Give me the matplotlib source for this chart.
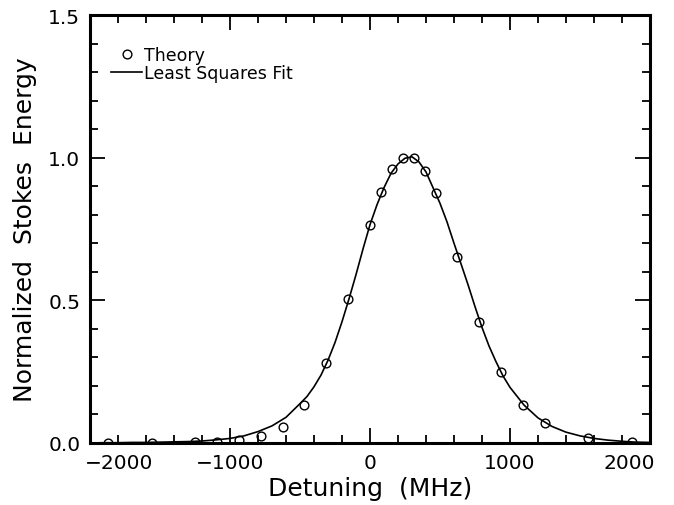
import matplotlib
matplotlib.use("Agg")
import matplotlib.pyplot as plt
from matplotlib.ticker import MultipleLocator
import matplotlib.transforms as mtransforms

plt.rcParams['font.family'] = ['DejaVu Sans']

# theory points (detuning in MHz, normalized energy)
theory_x = [-1872, -1560, -1248, -1092, -936, -780, -624, -468, -312, -156,
            0, 78, 156, 234, 312, 390, 468, 624, 780, 936, 1092, 1248, 1560, 1872]
theory_y = [0.0, 0.0, 0.002, 0.004, 0.01, 0.025, 0.056, 0.133, 0.28, 0.505,
            0.765, 0.88, 0.96, 1.0, 1.0, 0.955, 0.877, 0.653, 0.425, 0.25, 0.133, 0.07, 0.017, 0.003]

# least squares fit curve
fit_x = [-2000, -1900, -1800, -1700, -1600, -1500, -1400, -1300, -1200, -1100,
         -1000, -900, -800, -700, -600, -500, -450, -400, -350, -300, -250,
         -200, -150, -100, -50, 0, 50, 100, 150, 200, 250, 300, 350, 400, 450,
         500, 550, 600, 650, 700, 750, 800, 850, 900, 950, 1000, 1100, 1200,
         1300, 1400, 1500, 1600, 1700, 1800, 1900, 2000]
fit_y = [0.000, 0.001, 0.001, 0.002, 0.002, 0.003, 0.004, 0.005, 0.007, 0.011,
         0.016, 0.025, 0.040, 0.060, 0.090, 0.138, 0.163, 0.197, 0.238, 0.290, 0.352,
         0.425, 0.505, 0.590, 0.680, 0.765, 0.835, 0.895, 0.945, 0.978, 0.998, 1.003, 0.985, 0.950, 0.895,
         0.840, 0.775, 0.700, 0.628, 0.555, 0.478, 0.405, 0.340, 0.285, 0.235, 0.195, 0.133, 0.088,
         0.058, 0.038, 0.025, 0.016, 0.010, 0.006, 0.003, 0.002]

fig = plt.figure(figsize=(6.74, 5.06), dpi=100)
ax = fig.add_axes([90 / 674, 62 / 506, 560 / 674, 428 / 506])

ax.plot(theory_x, theory_y, 'o', mfc='none', mec='black', ms=6.3, mew=1.0,
        label='Theory', zorder=3)
ax.plot(fit_x, fit_y, '-', color='black', lw=1.2, label='Least Squares Fit')

ax.set_xlim(-2000, 2000)
ax.set_ylim(0, 1.5)
ax.xaxis.set_major_locator(MultipleLocator(1000))
ax.xaxis.set_minor_locator(MultipleLocator(200))
ax.yaxis.set_major_locator(MultipleLocator(0.5))
ax.yaxis.set_minor_locator(MultipleLocator(0.1))
ax.yaxis.set_major_formatter(plt.FormatStrFormatter('%.1f'))

ax.tick_params(which='both', direction='in', top=True, right=True, labelsize=14.5, width=1.3)
ax.tick_params(which='major', length=11, pad=7)
ax.tick_params(which='minor', length=6)
for s in ax.spines.values():
    s.set_linewidth(2.2)

ax.set_xlabel('Detuning  (MHz)', fontsize=18, labelpad=3)
ax.set_ylabel('Normalized  Stokes  Energy', fontsize=18, labelpad=8)

# end labels sit inside the frame, as in the original plot
fig.canvas.draw()
for tick in ax.xaxis.get_major_ticks():
    loc = tick.get_loc()
    if loc == -2000:
        dx = 29 / 100
    elif loc == 2000:
        dx = -21 / 100
    else:
        continue
    shift = mtransforms.ScaledTranslation(dx, 0, fig.dpi_scale_trans)
    tick.label1.set_transform(tick.label1.get_transform() + shift)

ax.legend(loc='upper left', bbox_to_anchor=(0.0375, 0.927), frameon=False,
          fontsize=12.5, handlelength=1.8, handletextpad=0.1, labelspacing=0.0,
          borderpad=0, borderaxespad=0)

fig.savefig('out.png', dpi=100)
